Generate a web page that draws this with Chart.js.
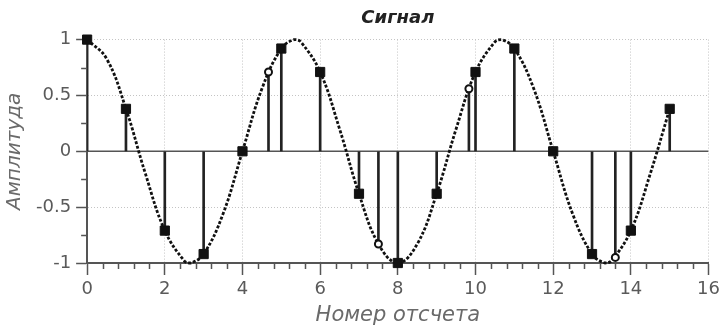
<!DOCTYPE html>
<html>
<head>
<meta charset="utf-8">
<script src="https://cdn.jsdelivr.net/npm/chart.js@4"></script>
<style>
  html, body { margin: 0; padding: 0; background: #fff; }
  #wrap { width: 725px; height: 325px; }
</style>
</head>
<body>
<div id="wrap"><canvas id="signal-chart"></canvas></div>
<script>
// sample numbers and sampled amplitudes (filled squares)
const sampleX = [0, 1, 2, 3, 4, 5, 6, 7, 8, 9, 10, 11, 12, 13, 14, 15];
const sampleY = [1, 0.38, -0.71, -0.92, 0, 0.92, 0.71, -0.38, -1, -0.38, 0.71, 0.92, 0, -0.92, -0.71, 0.38];

// off-grid samples (open circles)
const extraX = [4.67, 7.5, 9.83, 13.6];
const extraY = [0.71, -0.83, 0.56, -0.95];

// dotted continuous signal
const curveX = [0, 0.5, 1, 1.5, 2, 2.5, 2.67, 3, 3.5, 4, 4.5, 5, 5.33, 5.5, 6, 6.5, 7, 7.5, 8, 8.5, 9, 9.5, 10, 10.5, 10.67, 11, 11.5, 12, 12.5, 13, 13.33, 13.5, 14, 14.5, 15];
const curveY = [1, 0.83, 0.38, -0.2, -0.71, -0.98, -1, -0.92, -0.56, 0, 0.56, 0.92, 1, 0.98, 0.71, 0.2, -0.38, -0.83, -1, -0.83, -0.38, 0.2, 0.71, 0.98, 1, 0.92, 0.56, 0, -0.56, -0.92, -1, -0.98, -0.71, -0.2, 0.38];

const xRange = [0, 16];
const yRange = [-1, 1];
const xMajor = 2, xMinor = 0.4;
const yMajor = 0.5, yMinor = 0.25;

const toPoints = (xs, ys) => xs.map((x, i) => ({ x: x, y: ys[i] }));

const stemX = sampleX.concat(extraX);
const stemY = sampleY.concat(extraY);

const FONT = 'DejaVu Sans, sans-serif';

// short minor tick marks between the labelled ones
const minorTicks = {
  id: 'minorTicks',
  afterDraw(chart) {
    const { ctx, chartArea, scales } = chart;
    ctx.save();
    ctx.strokeStyle = '#555';
    ctx.lineWidth = 1.5;
    ctx.beginPath();
    for (let i = 1; i * xMinor < xRange[1]; i++) {
      const v = i * xMinor;
      if (Math.abs(v / xMajor - Math.round(v / xMajor)) < 1e-6) continue;
      const px = Math.round(scales.x.getPixelForValue(v)) + 0.5;
      ctx.moveTo(px, chartArea.bottom);
      ctx.lineTo(px, chartArea.bottom + 6);
    }
    for (let i = 0; yRange[0] + i * yMinor < yRange[1]; i++) {
      const v = yRange[0] + i * yMinor;
      if (Math.abs(v / yMajor - Math.round(v / yMajor)) < 1e-6) continue;
      const py = Math.round(scales.y.getPixelForValue(v)) + 0.5;
      ctx.moveTo(chartArea.left, py);
      ctx.lineTo(chartArea.left - 6, py);
    }
    ctx.stroke();
    ctx.restore();
  }
};

window.addEventListener('load', () => {
  const ctx = document.getElementById('signal-chart');

  new Chart(ctx, {
    type: 'scatter',
    data: {
      datasets: [
        {
          type: 'scatter',
          data: toPoints(sampleX, sampleY),
          pointStyle: 'rect',
          pointRadius: 6.5,
          backgroundColor: '#111',
          borderColor: '#111',
          borderWidth: 1,
          clip: false,
          order: 0
        },
        {
          type: 'scatter',
          data: toPoints(extraX, extraY),
          pointStyle: 'circle',
          pointRadius: 3.5,
          backgroundColor: '#fff',
          borderColor: '#111',
          borderWidth: 2,
          clip: false,
          order: 1
        },
        {
          type: 'line',
          data: toPoints(curveX, curveY),
          borderColor: '#111',
          borderWidth: 2.8,
          borderDash: [3, 1.8],
          pointRadius: 0,
          tension: 0.4,
          fill: false,
          clip: false,
          order: 2
        },
        {
          type: 'bar',
          data: toPoints(stemX, stemY),
          backgroundColor: '#222',
          borderWidth: 0,
          barThickness: 2,
          order: 3
        },
        {
          type: 'line',
          data: toPoints(xRange, [0, 0]),
          borderColor: '#555',
          borderWidth: 1.5,
          pointRadius: 0,
          order: 4
        }
      ]
    },
    options: {
      responsive: true,
      maintainAspectRatio: false,
      animation: false,
      layout: { padding: { left: 3, right: -3, top: 3, bottom: -1 } },
      plugins: {
        legend: { display: false },
        tooltip: { enabled: false },
        title: {
          display: true,
          fullSize: false,
          text: 'Сигнал',
          color: '#222',
          font: { family: FONT, size: 18, weight: 'bold', style: 'italic' },
          padding: { top: 5, bottom: 10 }
        }
      },
      scales: {
        x: {
          type: 'linear',
          offset: false,
          min: xRange[0],
          max: xRange[1],
          border: { display: true, color: '#555', width: 2, dash: [1, 2] },
          grid: {
            offset: false,
            color: '#c4c4c4',
            tickColor: '#555',
            tickLength: 12,
            tickWidth: 1.5
          },
          ticks: {
            stepSize: xMajor,
            maxRotation: 0,
            color: '#5a5a5a',
            padding: 5,
            font: { family: FONT, size: 18, lineHeight: 1 }
          },
          title: {
            display: true,
            text: 'Номер отсчета',
            color: '#6a6a6a',
            padding: { top: 2, bottom: 0 },
            font: { family: FONT, size: 21, style: 'italic', lineHeight: 1 }
          }
        },
        y: {
          type: 'linear',
          min: yRange[0],
          max: yRange[1],
          border: { display: true, color: '#555', width: 2, dash: [1, 2] },
          grid: {
            color: '#c4c4c4',
            tickColor: '#555',
            tickLength: 11,
            tickWidth: 1.5
          },
          ticks: {
            stepSize: yMajor,
            color: '#5a5a5a',
            padding: 5,
            font: { family: FONT, size: 18 },
            callback: (v) => String(v)
          },
          title: {
            display: true,
            text: 'Амплитуда',
            color: '#6a6a6a',
            padding: { top: 0, bottom: 4 },
            font: { family: FONT, size: 20, style: 'italic' }
          }
        }
      }
    },
    plugins: [minorTicks]
  });
});
</script>
</body>
</html>
